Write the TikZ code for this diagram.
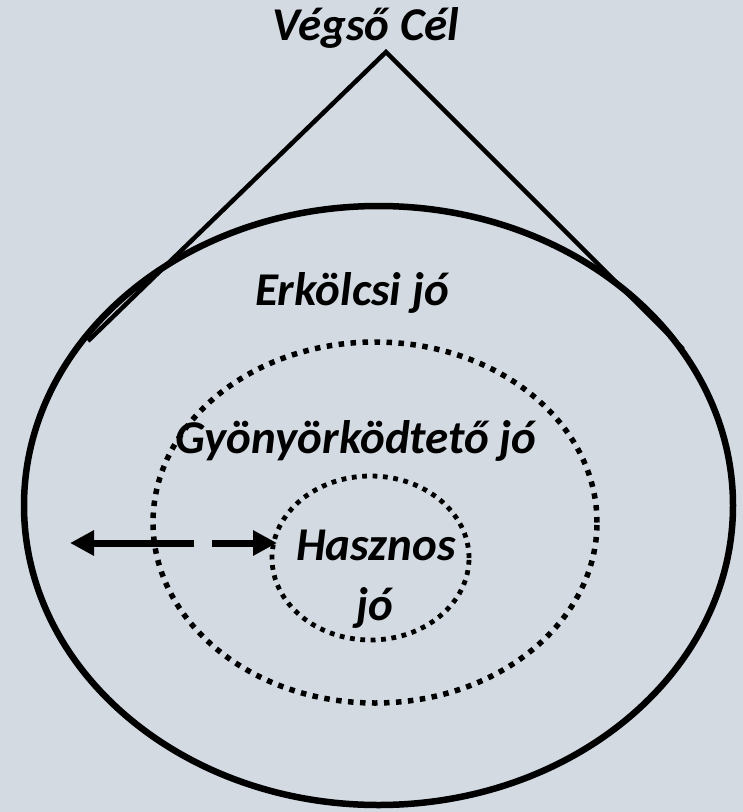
\documentclass[tikz,border=0pt]{standalone}
\usepackage{fontspec}
\setmainfont{Carlito}
\usetikzlibrary{arrows.meta}
\definecolor{bgc}{RGB}{211,218,226}
\tikzset{
  lbl/.style={font=\fontsize{47}{56}\selectfont\bfseries\itshape, inner sep=0pt, anchor=base},
  solidline/.style={line width=6.5pt},
  triline/.style={line width=4.5pt},
  dotsbig/.style={line width=5.5pt, dash pattern=on 5.5pt off 6.5pt},
  dotssmall/.style={line width=4.8pt, dash pattern=on 4.8pt off 5.6pt},
  arr/.style={line width=7pt, -{Triangle[length=24pt,width=24pt]}}
}
\begin{document}
\begin{tikzpicture}[x=1pt,y=-1pt]
\fill[bgc] (0,0) rectangle (743,812);
\useasboundingbox (0,0) rectangle (743,812);
% outer ellipse
\draw[solidline] (378.5,505.5) ellipse [x radius=354.5pt, y radius=299.5pt];
% triangle
\coordinate (apex) at (386,52);
\coordinate (tl) at (88,341);
\coordinate (tr) at (683,349);
\draw[triline, line join=miter] (tl) -- (apex) -- (tr);
% dotted ellipses
\draw[dotsbig] (375,522.5) ellipse [x radius=222pt, y radius=180.5pt];
\draw[dotssmall] (370.5,558) ellipse [x radius=98.5pt, y radius=82pt];
% arrows
\coordinate (la0) at (194,543);
\coordinate (la1) at (70,543);
\coordinate (ra0) at (212,543);
\coordinate (ra1) at (277,543);
\draw[arr] (la0) -- (la1);
\draw[arr] (ra0) -- (ra1);
% labels
\node[lbl] (vegso) at (366,40) {Végső Cél};
\node[lbl] (erkolcsi) at (352,305) {Erkölcsi jó};
\node[lbl] (gyony) at (356,453) {Gyönyörködtető jó};
\node[lbl] (hasznos) at (376,560) {Hasznos};
\node[lbl] (jo) at (375,620) {jó};
\end{tikzpicture}
\end{document}
